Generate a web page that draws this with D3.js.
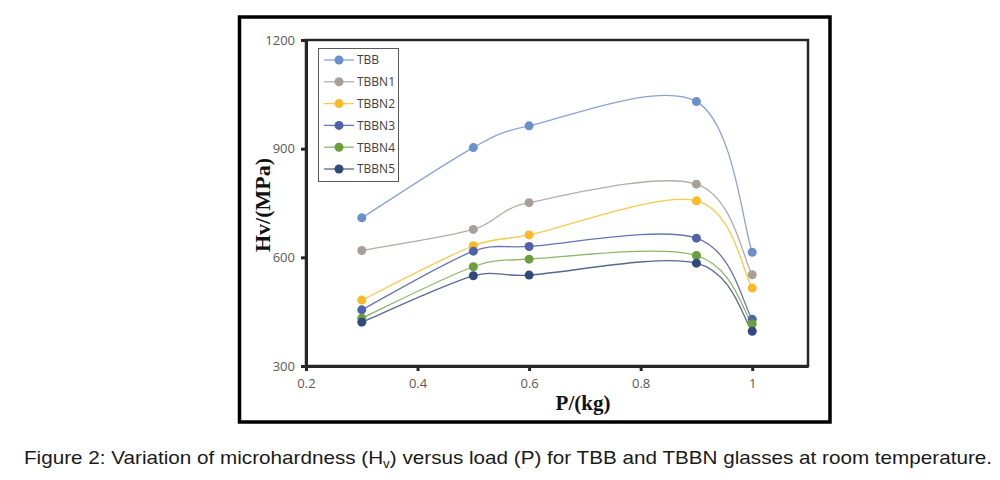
<!DOCTYPE html>
<html>
<head>
<meta charset="utf-8">
<script src="https://cdn.jsdelivr.net/npm/d3@7"></script>
<style>
  html, body { margin: 0; padding: 0; background: #fff; }
  svg { display: block; }
</style>
</head>
<body>
<svg id="chart" width="1000" height="480"></svg>
<script>
// ---- data ----
const loads = [0.3, 0.5, 0.6, 0.9, 1.0];
const seriesNames = ["TBB", "TBBN1", "TBBN2", "TBBN3", "TBBN4", "TBBN5"];
const TBB   = [709, 903, 963, 1030, 614];
const TBBN1 = [619, 677, 751, 802, 552];
const TBBN2 = [482, 632, 662, 756, 515];
const TBBN3 = [455, 617, 630, 653, 429];
const TBBN4 = [432, 574, 595, 605, 416];
const TBBN5 = [421, 549, 551, 584, 396];
const xTicks = [0.2, 0.4, 0.6, 0.8, 1];
const yTicks = [300, 600, 900, 1200];

const seriesValues = [TBB, TBBN1, TBBN2, TBBN3, TBBN4, TBBN5];
const markerColors = ["#6b8fca", "#a7a09a", "#fbb927", "#4f63a8", "#6a9f3c", "#33487c"];
const lineColors   = ["#8aa2d4", "#b3ada8", "#f8c847", "#6675b0", "#8cb869", "#56678f"];

const svg = d3.select("#chart");

// outer frame
svg.append("rect").attr("x", 239.5).attr("y", 17).attr("width", 590.5).attr("height", 405)
  .attr("fill", "#fff").attr("stroke", "#000").attr("stroke-width", 3.5);

const x = d3.scaleLinear().domain([0.2, 1.1]).range([306, 808]);
const y = d3.scaleLinear().domain([300, 1200]).range([366, 40]);

// plot frame
svg.append("rect").attr("x", x(0.2)).attr("y", y(1200))
  .attr("width", x(1.1) - x(0.2)).attr("height", y(300) - y(1200))
  .attr("fill", "none").attr("stroke", "#262626").attr("stroke-width", 2.5);

// axes
const yAxis = svg.append("g").attr("transform", `translate(${x(0.2)},0)`)
  .call(d3.axisLeft(y).tickValues(yTicks).tickSize(5).tickSizeOuter(0).tickPadding(6)
    .tickFormat(d3.format("d")));
const xAxis = svg.append("g").attr("transform", `translate(0,${y(300)})`)
  .call(d3.axisBottom(x).tickValues(xTicks).tickSize(5).tickSizeOuter(0).tickPadding(8)
    .tickFormat(d => d3.format("")(d)));
[yAxis, xAxis].forEach(g => {
  g.select(".domain").attr("stroke", "#262626").attr("stroke-width", 3);
  g.selectAll(".tick line").attr("stroke", "#262626").attr("stroke-width", 3);
  g.selectAll(".tick text").attr("fill", "#595959")
    .style("font-family", "'Open Sans', sans-serif").style("font-size", "13px");
});

// axis titles
svg.append("text").attr("x", 583).attr("y", 410).attr("text-anchor", "middle")
  .style("font-family", "'Liberation Serif', 'Times New Roman', serif")
  .style("font-weight", "bold").style("font-size", "21px").attr("fill", "#111")
  .text("P/(kg)");
svg.append("text").attr("transform", "translate(270,205) rotate(-90)").attr("text-anchor", "middle")
  .style("font-family", "'Liberation Serif', 'Times New Roman', serif")
  .style("font-weight", "bold").style("font-size", "22px").attr("fill", "#111")
  .text("Hv/(MPa)");

// Excel-like smoothed line: Catmull-Rom bezier (1/6 arms), arms clamped to the chord
function smoothPath(pts) {
  const p = d3.path();
  const n = pts.length;
  p.moveTo(pts[0][0], pts[0][1]);
  for (let i = 0; i < n - 1; i++) {
    const p0 = pts[Math.max(i - 1, 0)], p1 = pts[i], p2 = pts[i + 1], p3 = pts[Math.min(i + 2, n - 1)];
    let a1 = [(p2[0] - p0[0]) / 6, (p2[1] - p0[1]) / 6];
    let a2 = [(p3[0] - p1[0]) / 6, (p3[1] - p1[1]) / 6];
    const chord = Math.hypot(p2[0] - p1[0], p2[1] - p1[1]);
    const sum = Math.hypot(a1[0], a1[1]) + Math.hypot(a2[0], a2[1]);
    if (sum > chord * 0.9) {
      const s = chord * 0.9 / sum;
      a1 = [a1[0] * s, a1[1] * s];
      a2 = [a2[0] * s, a2[1] * s];
    }
    p.bezierCurveTo(p1[0] + a1[0], p1[1] + a1[1], p2[0] - a2[0], p2[1] - a2[1], p2[0], p2[1]);
  }
  return p.toString();
}

seriesValues.forEach((vals, i) => {
  const pts = loads.map((l, j) => [x(l), y(vals[j])]);
  svg.append("path").attr("d", smoothPath(pts)).attr("fill", "none")
    .attr("stroke", lineColors[i]).attr("stroke-width", 1.3);
});
seriesValues.forEach((vals, i) => {
  svg.append("g").selectAll("circle").data(loads.map((l, j) => [l, vals[j]])).join("circle")
    .attr("cx", d => x(d[0])).attr("cy", d => y(d[1])).attr("r", 4.5)
    .attr("fill", markerColors[i]);
});

// legend
const lg = svg.append("g");
lg.append("rect").attr("x", 318.5).attr("y", 48.5).attr("width", 80).attr("height", 133)
  .attr("fill", "#fff").attr("stroke", "#595959").attr("stroke-width", 1);
seriesNames.forEach((name, i) => {
  const cy = 60 + i * 21.8;
  lg.append("line").attr("x1", 324).attr("x2", 354).attr("y1", cy).attr("y2", cy)
    .attr("stroke", lineColors[i]).attr("stroke-width", 1.3);
  lg.append("circle").attr("cx", 339).attr("cy", cy).attr("r", 4.5).attr("fill", markerColors[i]);
  lg.append("text").attr("x", 357).attr("y", cy + 4.3)
    .style("font-family", "'Open Sans', sans-serif").style("font-size", "12px")
    .attr("fill", "#404040").text(name);
});

// caption
const cap = svg.append("text").attr("x", 24).attr("y", 464)
  .attr("textLength", 968).attr("lengthAdjust", "spacingAndGlyphs")
  .style("font-family", "'Liberation Sans', Arial, sans-serif").style("font-size", "18.5px")
  .attr("fill", "#1a1a1a");
cap.append("tspan").text("Figure 2: Variation of microhardness (H");
cap.append("tspan").attr("dy", 4).style("font-size", "12px").text("v");
cap.append("tspan").attr("dy", -4).text(") versus load (P) for TBB and TBBN glasses at room temperature.");
</script>
</body>
</html>
